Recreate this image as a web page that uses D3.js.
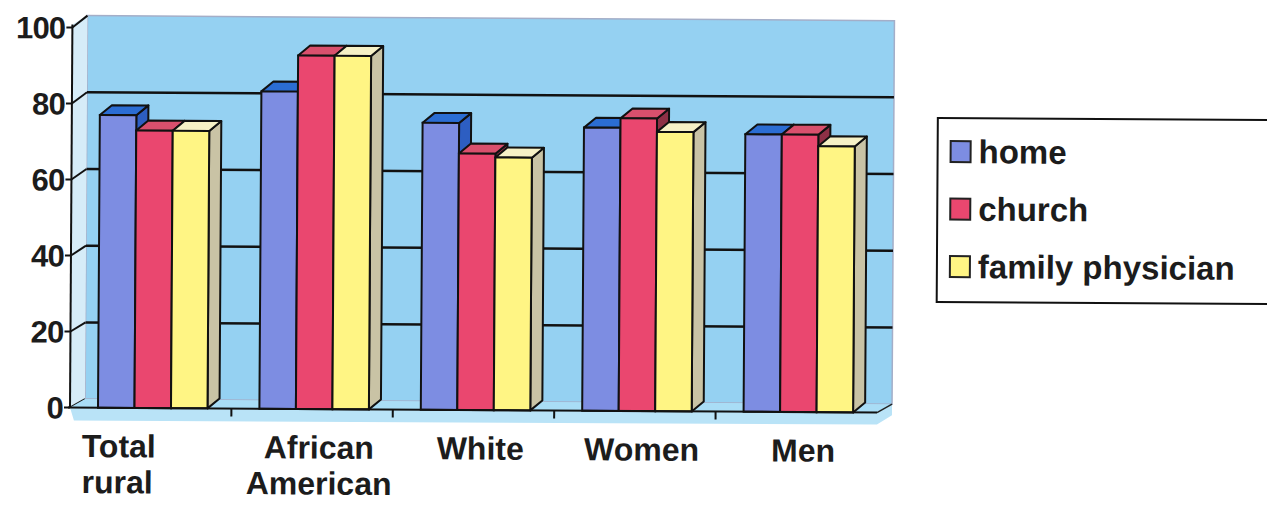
<!DOCTYPE html>
<html>
<head>
<meta charset="utf-8">
<script src="https://cdn.jsdelivr.net/npm/d3@7"></script>
<style>
  html, body { margin: 0; padding: 0; background: #fff; }
  svg { display: block; font-family: "Liberation Sans", Arial, sans-serif; }
</style>
</head>
<body>
<svg id="chart" width="1267" height="506"></svg>
<script>
// Share of respondents by group and setting
const categories = ["Total rural", "African American", "White", "Women", "Men"];
const categoryLines = [["Total", "rural"], ["African", "American"], ["White"], ["Women"], ["Men"]];
const seriesNames = ["home", "church", "family physician"];
const home = [77, 83.5, 75.5, 74.5, 73];
const church = [73, 93, 67.5, 77, 73];
const physician = [73, 93, 66.5, 73.5, 70];
const yTicks = [0, 20, 40, 60, 80, 100];

const seriesValues = [home, church, physician];

// face colours per series: front, top, side
const palette = [
  { front: "#7d8de2", top: "#2b6dd3", side: "#2d5ec2" },
  { front: "#ea476f", top: "#d9506d", side: "#8e3046" },
  { front: "#fff584", top: "#f6f1c6", side: "#c9c3a5" }
];

const svg = d3.select("#chart");
const g = svg.append("g").attr("transform", "rotate(0.36, 70, 408)");

// scales: front plane and back wall (slight perspective)
const x0 = d3.scaleBand().domain(categories).range([70, 877]);
const x1 = d3.scaleBand().domain(seriesNames).range([28, 137.5]);
const y = d3.scaleLinear().domain([0, 100]).range([407.5, 27.5]);
const yBack = d3.scaleLinear().domain([0, 100]).range([399, 15.5]);

const wallDx = 15;
const barDx = 12, barDy = -10;
const xLeft = x0.range()[0], xRight = x0.range()[1];

// back wall
g.append("rect")
  .attr("x", xLeft + wallDx).attr("y", yBack(100))
  .attr("width", xRight - xLeft).attr("height", yBack(0) - yBack(100))
  .attr("fill", "#95d1f2").attr("stroke", "#a4aec8").attr("stroke-width", 1.5);

// side wall
g.append("polygon")
  .attr("points", [[xLeft, y(0)], [xLeft + wallDx, yBack(0)], [xLeft + wallDx, yBack(100)], [xLeft, y(100) - 3]].join(" "))
  .attr("fill", "#d6ecf8");

// gridlines on the back wall and their side-wall runs
const grid = yTicks.filter(d => d > 0 && d < 100);
g.selectAll("line.grid").data(grid).join("line")
  .attr("class", "grid")
  .attr("x1", xLeft + wallDx).attr("x2", xRight + wallDx)
  .attr("y1", d => yBack(d)).attr("y2", d => yBack(d))
  .attr("stroke", "#111").attr("stroke-width", 2.5);
g.selectAll("line.diag").data(yTicks).join("line")
  .attr("class", "diag")
  .attr("x1", xLeft).attr("x2", xLeft + wallDx)
  .attr("y1", d => y(d)).attr("y2", d => yBack(d))
  .attr("stroke", "#111").attr("stroke-width", 2);

// floor and its front band
g.append("polygon")
  .attr("points", [[xLeft, y(0)], [xRight, y(0)], [xRight + wallDx, yBack(0)], [xLeft + wallDx, yBack(0)]].join(" "))
  .attr("fill", "#a9ddf6");
g.append("polygon")
  .attr("points", [[xLeft, y(0)], [xRight, y(0)], [xRight + wallDx, yBack(0)], [xRight + wallDx, yBack(0) + 11], [xRight, y(0) + 12], [xLeft + 4, y(0) + 13]].join(" "))
  .attr("fill", "#b9e3f7");
g.append("line")
  .attr("x1", xRight).attr("y1", y(0)).attr("x2", xRight + wallDx).attr("y2", yBack(0))
  .attr("stroke", "#222").attr("stroke-width", 1.5);

// bars
const barW = x1.bandwidth();
categories.forEach((cat, ci) => {
  seriesNames.forEach((s, si) => {
    const v = seriesValues[si][ci];
    const xa = x0(cat) + x1(s), xb = xa + barW;
    const yt = y(v), yb = y(0);
    const c = palette[si];
    const bar = g.append("g");
    bar.append("polygon")
      .attr("points", [[xb, yt], [xb + barDx, yt + barDy], [xb + barDx, yb + barDy], [xb, yb]].join(" "))
      .attr("fill", c.side).attr("stroke", "#111").attr("stroke-width", 2).attr("stroke-linejoin", "round");
    bar.append("polygon")
      .attr("points", [[xa, yt], [xb, yt], [xb + barDx, yt + barDy], [xa + barDx, yt + barDy]].join(" "))
      .attr("fill", c.top).attr("stroke", "#111").attr("stroke-width", 2).attr("stroke-linejoin", "round");
    bar.append("rect")
      .attr("x", xa).attr("y", yt).attr("width", barW).attr("height", yb - yt)
      .attr("fill", c.front).attr("stroke", "#111").attr("stroke-width", 2);
  });
});

// value axis
g.append("line")
  .attr("x1", xLeft).attr("x2", xLeft).attr("y1", y(100) - 3).attr("y2", y(0))
  .attr("stroke", "#111").attr("stroke-width", 2);
g.selectAll("line.ytick").data(yTicks).join("line")
  .attr("class", "ytick")
  .attr("x1", xLeft - 6).attr("x2", xLeft)
  .attr("y1", d => y(d)).attr("y2", d => y(d))
  .attr("stroke", "#111").attr("stroke-width", 2);
g.selectAll("text.ylab").data(yTicks).join("text")
  .attr("class", "ylab")
  .attr("x", 63).attr("y", d => y(d))
  .attr("dy", "0.36em")
  .attr("text-anchor", "end")
  .attr("font-size", 31).attr("font-weight", "bold").attr("fill", "#1c1c1c")
  .attr("letter-spacing", -0.8)
  .text(d => d);

// category axis
g.append("line")
  .attr("x1", xLeft - 2).attr("x2", xRight).attr("y1", y(0)).attr("y2", y(0))
  .attr("stroke", "#111").attr("stroke-width", 2);
g.selectAll("line.xtick").data(categories.slice(1)).join("line")
  .attr("class", "xtick")
  .attr("x1", d => x0(d)).attr("x2", d => x0(d))
  .attr("y1", y(0)).attr("y2", y(0) + 8)
  .attr("stroke", "#111").attr("stroke-width", 2);

const labels = g.selectAll("text.xlab").data(categories).join("text")
  .attr("class", "xlab")
  .attr("text-anchor", (d, i) => i === 0 ? "start" : "middle")
  .attr("font-size", 32).attr("font-weight", "bold").attr("fill", "#1c1c1c");
labels.each(function (d, i) {
  const t = d3.select(this);
  const cx = i === 0 ? xLeft + 12 : x0(d) + x0.bandwidth() / 2 + 7;
  categoryLines[i].forEach((line, li) => {
    t.append("tspan").attr("x", cx).attr("y", 457 + li * 36).text(line);
  });
});

// legend
const legend = svg.append("g").attr("transform", "rotate(0.36, 70, 408)");
legend.append("rect")
  .attr("x", 936).attr("y", 112.5).attr("width", 420).attr("height", 184)
  .attr("fill", "#fff").attr("stroke", "#111").attr("stroke-width", 2);
const items = legend.selectAll("g.item").data(seriesNames).join("g")
  .attr("class", "item")
  .attr("transform", (d, i) => `translate(0, ${157.5 + i * 57.5})`);
items.append("rect")
  .attr("x", 949).attr("y", -22).attr("width", 20).attr("height", 21)
  .attr("fill", (d, i) => palette[i].front).attr("stroke", "#222").attr("stroke-width", 2);
items.append("text")
  .attr("x", 977).attr("y", 0)
  .attr("font-size", 33).attr("font-weight", "bold").attr("fill", "#1c1c1c")
  .text(d => d);
</script>
</body>
</html>
